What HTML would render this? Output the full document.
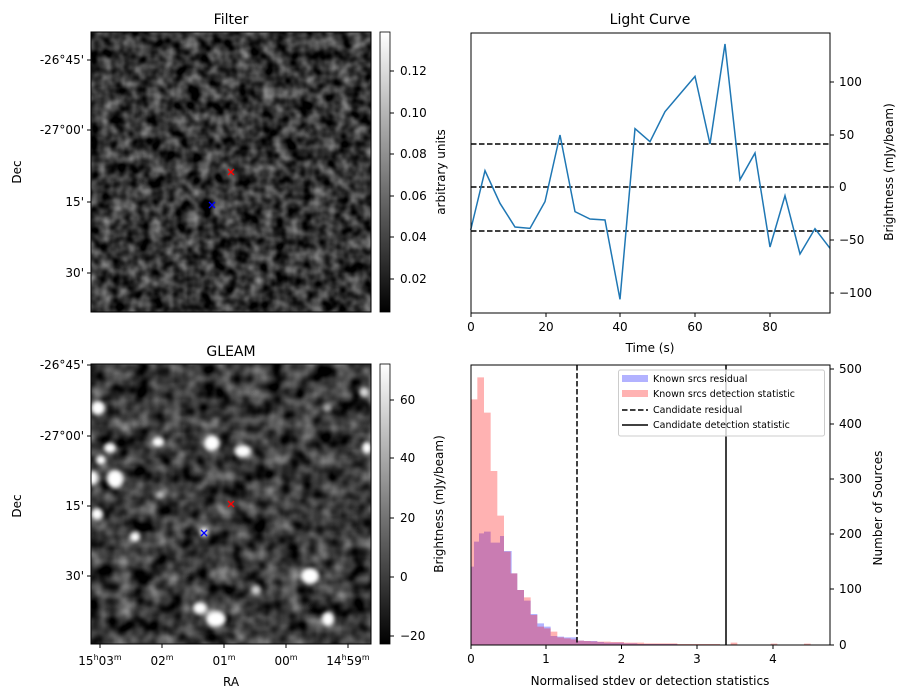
<!DOCTYPE html>
<html><head><meta charset="utf-8"><style>
html,body{margin:0;padding:0;background:#fff;}
svg{display:block;font-family:"DejaVu Sans","Liberation Sans",sans-serif;}
</style></head><body>
<svg width="907" height="699" viewBox="0 0 907 699" xmlns="http://www.w3.org/2000/svg">
<defs>
<filter id="nf" x="0" y="0" width="100%" height="100%" color-interpolation-filters="sRGB">
<feTurbulence type="fractalNoise" baseFrequency="0.08" numOctaves="2" seed="3"/>
<feColorMatrix type="matrix" values="0.85 0 0 0 -0.22  0.85 0 0 0 -0.22  0.85 0 0 0 -0.22  0 0 0 0 1"/>
</filter>
<filter id="ng" x="0" y="0" width="100%" height="100%" color-interpolation-filters="sRGB">
<feTurbulence type="fractalNoise" baseFrequency="0.06" numOctaves="2" seed="11"/>
<feColorMatrix type="matrix" values="0.85 0 0 0 -0.2  0.85 0 0 0 -0.2  0.85 0 0 0 -0.2  0 0 0 0 1"/>
</filter>
<filter id="bl"><feGaussianBlur stdDeviation="2"/></filter>
<linearGradient id="cb" x1="0" y1="1" x2="0" y2="0"><stop offset="0" stop-color="#000"/><stop offset="1" stop-color="#fff"/></linearGradient>
<clipPath id="cg"><rect x="91" y="364" width="280" height="280"/></clipPath>
</defs>

<!-- Filter image -->
<text x="231" y="24" font-size="14" text-anchor="middle">Filter</text>
<rect x="91" y="32" width="280" height="280" filter="url(#nf)"/>
<rect x="91" y="32" width="280" height="280" fill="none" stroke="#000" stroke-width="1"/>
<g stroke="red" stroke-width="1.3"><line x1="228" y1="169" x2="234" y2="175"/><line x1="234" y1="169" x2="228" y2="175"/></g>
<g stroke="blue" stroke-width="1.3"><line x1="209" y1="202" x2="215" y2="208"/><line x1="215" y1="202" x2="209" y2="208"/></g>
<g font-size="12" text-anchor="end">
<text x="84" y="64">-26°45'</text><text x="84" y="134">-27°00'</text><text x="84" y="206">15'</text><text x="84" y="277">30'</text>
</g>
<g stroke="#000"><line x1="87" y1="60" x2="91" y2="60"/><line x1="87" y1="130" x2="91" y2="130"/><line x1="87" y1="202" x2="91" y2="202"/><line x1="87" y1="273" x2="91" y2="273"/></g>
<text transform="translate(21,172) rotate(-90)" font-size="12" text-anchor="middle">Dec</text>
<rect x="380" y="32" width="10" height="280" fill="url(#cb)" stroke="#000" stroke-width="0.8"/>
<g font-size="12"><text x="400" y="75">0.12</text><text x="400" y="117">0.10</text><text x="400" y="158">0.08</text><text x="400" y="200">0.06</text><text x="400" y="241">0.04</text><text x="400" y="283">0.02</text></g>
<g stroke="#000"><line x1="390" y1="71" x2="394" y2="71"/><line x1="390" y1="113" x2="394" y2="113"/><line x1="390" y1="154" x2="394" y2="154"/><line x1="390" y1="196" x2="394" y2="196"/><line x1="390" y1="237" x2="394" y2="237"/><line x1="390" y1="279" x2="394" y2="279"/></g>
<text transform="translate(445,172) rotate(-90)" font-size="12" text-anchor="middle">arbitrary units</text>

<!-- GLEAM image -->
<text x="231" y="356" font-size="14" text-anchor="middle">GLEAM</text>
<rect x="91" y="364" width="280" height="280" filter="url(#ng)"/>
<g clip-path="url(#cg)" fill="#fff" filter="url(#bl)">
<ellipse cx="98" cy="408" rx="7" ry="7"/><ellipse cx="110" cy="448" rx="6" ry="5"/><ellipse cx="101" cy="460" rx="5" ry="5"/>
<ellipse cx="115" cy="479" rx="8" ry="9"/><ellipse cx="93" cy="478" rx="5" ry="7"/><ellipse cx="97" cy="514" rx="6" ry="6"/>
<ellipse cx="135" cy="537" rx="5" ry="5"/><ellipse cx="158" cy="442" rx="6" ry="5"/><ellipse cx="212" cy="443" rx="8" ry="8"/>
<ellipse cx="243" cy="451" rx="8" ry="6"/><ellipse cx="160" cy="495" rx="4" ry="4" opacity="0.6"/><ellipse cx="204" cy="532" rx="4" ry="4"/>
<ellipse cx="310" cy="576" rx="9" ry="8"/><ellipse cx="256" cy="590" rx="5" ry="5" opacity="0.8"/><ellipse cx="200" cy="608" rx="7" ry="6"/>
<ellipse cx="216" cy="619" rx="10" ry="8"/><ellipse cx="328" cy="619" rx="6" ry="7"/><ellipse cx="364" cy="392" rx="5" ry="5" opacity="0.8"/>
<ellipse cx="367" cy="448" rx="5" ry="6"/><ellipse cx="327" cy="408" rx="4" ry="4" opacity="0.5"/>
</g>
<rect x="91" y="364" width="280" height="280" fill="none" stroke="#000" stroke-width="1"/>
<g stroke="red" stroke-width="1.3"><line x1="228" y1="501" x2="234" y2="507"/><line x1="234" y1="501" x2="228" y2="507"/></g>
<g stroke="blue" stroke-width="1.3"><line x1="201" y1="530" x2="207" y2="536"/><line x1="207" y1="530" x2="201" y2="536"/></g>
<g font-size="12" text-anchor="end">
<text x="84" y="369">-26°45'</text><text x="84" y="440">-27°00'</text><text x="84" y="510">15'</text><text x="84" y="580">30'</text>
</g>
<g stroke="#000"><line x1="87" y1="365" x2="91" y2="365"/><line x1="87" y1="436" x2="91" y2="436"/><line x1="87" y1="506" x2="91" y2="506"/><line x1="87" y1="576" x2="91" y2="576"/>
<line x1="100" y1="644" x2="100" y2="648"/><line x1="162" y1="644" x2="162" y2="648"/><line x1="224" y1="644" x2="224" y2="648"/><line x1="286" y1="644" x2="286" y2="648"/><line x1="348" y1="644" x2="348" y2="648"/></g>
<text transform="translate(21,506) rotate(-90)" font-size="12" text-anchor="middle">Dec</text>
<g font-size="12" text-anchor="middle">
<text x="100" y="665">15<tspan font-size="8" dy="-5">h</tspan><tspan dy="5">03</tspan><tspan font-size="8" dy="-5">m</tspan></text>
<text x="162" y="665">02<tspan font-size="8" dy="-5">m</tspan></text>
<text x="224" y="665">01<tspan font-size="8" dy="-5">m</tspan></text>
<text x="286" y="665">00<tspan font-size="8" dy="-5">m</tspan></text>
<text x="348" y="665">14<tspan font-size="8" dy="-5">h</tspan><tspan dy="5">59</tspan><tspan font-size="8" dy="-5">m</tspan></text>
<text x="231" y="686">RA</text>
</g>
<rect x="380" y="364" width="10" height="280" fill="url(#cb)" stroke="#000" stroke-width="0.8"/>
<g font-size="12"><text x="400" y="404">60</text><text x="400" y="462">40</text><text x="400" y="522">20</text><text x="400" y="581">0</text><text x="400" y="640">−20</text></g>
<g stroke="#000"><line x1="390" y1="400" x2="394" y2="400"/><line x1="390" y1="458" x2="394" y2="458"/><line x1="390" y1="518" x2="394" y2="518"/><line x1="390" y1="577" x2="394" y2="577"/><line x1="390" y1="636" x2="394" y2="636"/></g>
<text transform="translate(443,504) rotate(-90)" font-size="12" text-anchor="middle">Brightness (mJy/beam)</text>

<!-- Light curve -->
<text x="650" y="24" font-size="14" text-anchor="middle">Light Curve</text>
<g stroke="#000" stroke-width="1.5" stroke-dasharray="5.5,2.5">
<line x1="471" y1="144" x2="830" y2="144"/><line x1="471" y1="187" x2="830" y2="187"/><line x1="471" y1="231" x2="830" y2="231"/></g>
<g transform="translate(460,30) scale(0.33333)">
<polyline fill="none" stroke="#1f77b4" stroke-width="4.5" points="32,600 75,422 120,520 165,591 210,595 255,515 300,315 345,545 390,567 435,570 480,808 525,296 570,335 615,245 660,192 705,139 750,342 795,42 840,449 885,369 930,651 975,497 1020,672 1065,596 1110,655"/>
</g>
<rect x="471" y="33" width="359" height="280" fill="none" stroke="#000"/>
<g stroke="#000"><line x1="471" y1="313" x2="471" y2="317"/><line x1="546" y1="313" x2="546" y2="317"/><line x1="620" y1="313" x2="620" y2="317"/><line x1="695" y1="313" x2="695" y2="317"/><line x1="770" y1="313" x2="770" y2="317"/>
<line x1="830" y1="82" x2="834" y2="82"/><line x1="830" y1="135" x2="834" y2="135"/><line x1="830" y1="187" x2="834" y2="187"/><line x1="830" y1="240" x2="834" y2="240"/><line x1="830" y1="293" x2="834" y2="293"/></g>
<g font-size="12" text-anchor="middle"><text x="471" y="331">0</text><text x="546" y="331">20</text><text x="620" y="331">40</text><text x="695" y="331">60</text><text x="770" y="331">80</text><text x="650" y="352">Time (s)</text></g>
<g font-size="12"><text x="839" y="86">100</text><text x="839" y="139">50</text><text x="839" y="191">0</text><text x="839" y="244">−50</text><text x="839" y="297">−100</text></g>
<text transform="translate(893,172) rotate(-90)" font-size="12" text-anchor="middle">Brightness (mJy/beam)</text>

<!-- Histogram -->
<g transform="translate(460,360) scale(0.33333)">
<path fill="rgba(0,0,255,0.3)" d="M32 855 V620 H42 V545 H57 V520 H72 V515 H92 V548 H120 V528 H132 V573 H155 V640 H172 V690 H192 V722 H212 V762 H232 V790 H252 V800 H272 V828 H292 V830 H312 V832 H352 V842 H372 V843 H412 V846 H432 V848 H492 V850 H532 V852 H652 V855 Z"/>
<path fill="rgba(255,0,0,0.3)" d="M32 855 V118 H52 V52 H72 V158 H92 V333 H112 V467 H132 V575 H152 V640 H172 V690 H192 V712 H212 V765 H232 V800 H252 V805 H272 V815 H292 V832 H312 V835 H332 V838 H352 V842 H372 V843 H392 V844 H412 V845 H452 V846 H492 V848 H552 V850 H652 V852 H780 V855 H812 V848 H832 V855 H932 V851 H952 V855 H1032 V851 H1052 V855 Z"/>
</g>
<line x1="577" y1="365" x2="577" y2="645" stroke="#000" stroke-width="1.5" stroke-dasharray="5.5,2.5"/>
<line x1="726" y1="365" x2="726" y2="645" stroke="#000" stroke-width="1.5"/>
<rect x="471" y="365" width="359" height="280" fill="none" stroke="#000"/>
<g stroke="#000"><line x1="471" y1="645" x2="471" y2="649"/><line x1="546" y1="645" x2="546" y2="649"/><line x1="621.5" y1="645" x2="621.5" y2="649"/><line x1="697" y1="645" x2="697" y2="649"/><line x1="773" y1="645" x2="773" y2="649"/>
<line x1="830" y1="645" x2="834" y2="645"/><line x1="830" y1="589" x2="834" y2="589"/><line x1="830" y1="534" x2="834" y2="534"/><line x1="830" y1="479" x2="834" y2="479"/><line x1="830" y1="424" x2="834" y2="424"/><line x1="830" y1="369" x2="834" y2="369"/></g>
<g font-size="12" text-anchor="middle"><text x="471" y="663">0</text><text x="546" y="663">1</text><text x="621.5" y="663">2</text><text x="697" y="663">3</text><text x="773" y="663">4</text><text x="650" y="685">Normalised stdev or detection statistics</text></g>
<g font-size="12"><text x="839" y="649">0</text><text x="839" y="593">100</text><text x="839" y="538">200</text><text x="839" y="483">300</text><text x="839" y="428">400</text><text x="839" y="373">500</text></g>
<text transform="translate(882,508) rotate(-90)" font-size="12" text-anchor="middle">Number of Sources</text>
<!-- legend -->
<rect x="618.5" y="370" width="206" height="66" rx="2" fill="#fff" fill-opacity="0.8" stroke="#ccc"/>
<rect x="622" y="375" width="26" height="7" fill="rgba(0,0,255,0.3)"/>
<rect x="622" y="390" width="26" height="7" fill="rgba(255,0,0,0.3)"/>
<line x1="622" y1="410" x2="648" y2="410" stroke="#000" stroke-width="1.5" stroke-dasharray="5.5,2.5"/>
<line x1="622" y1="425" x2="648" y2="425" stroke="#000" stroke-width="1.5"/>
<g font-size="9.5"><text x="653" y="382">Known srcs residual</text><text x="653" y="397">Known srcs detection statistic</text><text x="653" y="413">Candidate residual</text><text x="653" y="428">Candidate detection statistic</text></g>
</svg>
</body></html>
